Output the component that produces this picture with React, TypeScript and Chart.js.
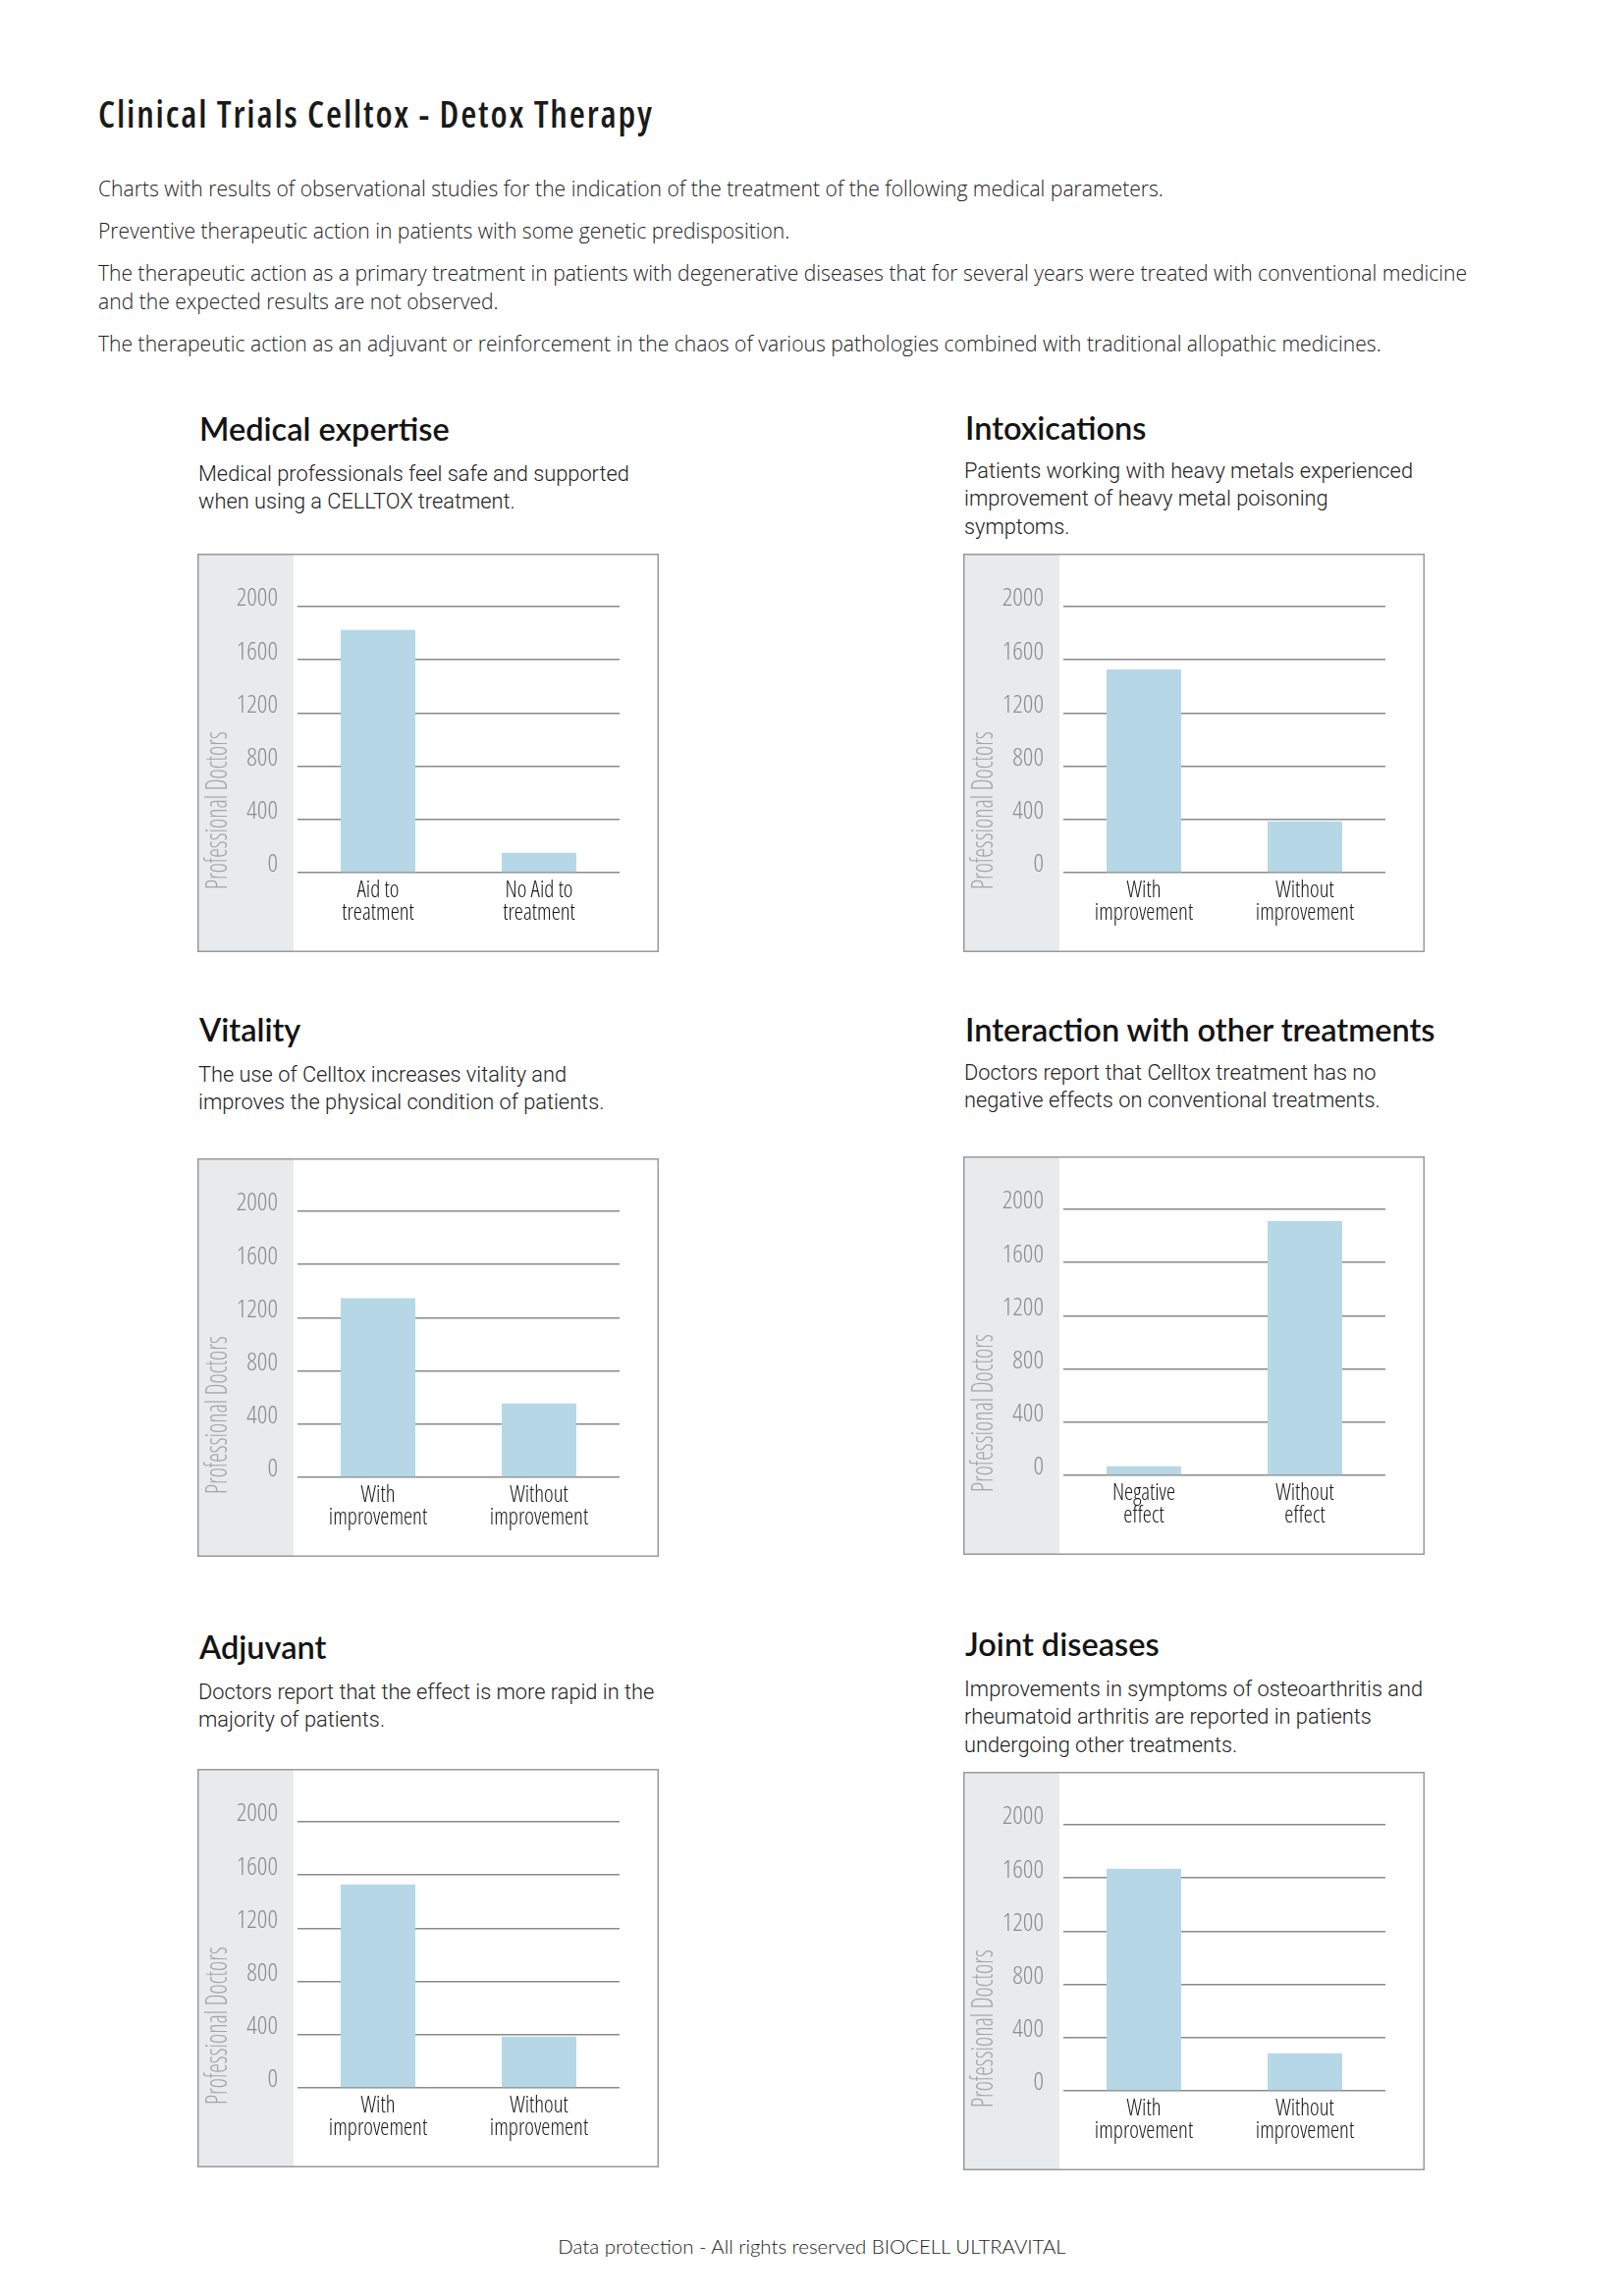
import React, { useEffect, useRef } from 'react';
import { Chart, registerables } from 'chart.js';

Chart.register(...registerables);

// ---------- data ----------
const yTicks = [0, 400, 800, 1200, 1600, 2000];
const axisTitle = 'Professional Doctors';

const medicalCategories = [['Aid to', 'treatment'], ['No Aid to', 'treatment']];
const medicalValues = [1825, 150];

const intoxCategories = [['With', 'improvement'], ['Without', 'improvement']];
const intoxValues = [1528, 385];

const vitalityCategories = [['With', 'improvement'], ['Without', 'improvement']];
const vitalityValues = [1346, 556];

const interactionCategories = [['Negative', 'effect'], ['Without', 'effect']];
const interactionValues = [69, 1912];

const adjuvantCategories = [['With', 'improvement'], ['Without', 'improvement']];
const adjuvantValues = [1530, 386];

const jointCategories = [['With', 'improvement'], ['Without', 'improvement']];
const jointValues = [1670, 283];

const pageTitle = 'Clinical Trials Celltox - Detox Therapy';
const introParagraphs = [
  ['Charts with results of observational studies for the indication of the treatment of the following medical parameters.'],
  ['Preventive therapeutic action in patients with some genetic predisposition.'],
  [
    'The therapeutic action as a primary treatment in patients with degenerative diseases that for several years were treated with conventional medicine',
    'and the expected results are not observed.',
  ],
  ['The therapeutic action as an adjuvant or reinforcement in the chaos of various pathologies combined with traditional allopathic medicines.'],
];
const footerText = 'Data protection - All rights reserved BIOCELL ULTRAVITAL';

const chartTitles = [
  'Medical expertise',
  'Intoxications',
  'Vitality',
  'Interaction with other treatments',
  'Adjuvant',
  'Joint diseases',
];
const chartDescriptions = [
  ['Medical professionals feel safe and supported', 'when using a CELLTOX treatment.'],
  ['Patients working with heavy metals experienced', 'improvement of heavy metal poisoning', 'symptoms.'],
  ['The use of Celltox increases vitality and', 'improves the physical condition of patients.'],
  ['Doctors report that Celltox treatment has no', 'negative effects on conventional treatments.'],
  ['Doctors report that the effect is more rapid in the', 'majority of patients.'],
  ['Improvements in symptoms of osteoarthritis and', 'rheumatoid arthritis are reported in patients', 'undergoing other treatments.'],
];
const chartCategories = [medicalCategories, intoxCategories, vitalityCategories, interactionCategories, adjuvantCategories, jointCategories];
const chartValues = [medicalValues, intoxValues, vitalityValues, interactionValues, adjuvantValues, jointValues];

// ---------- layout (positions only) ----------
const panelLayout = [
  { x: 201, y: 564, headY: 419, descY: 468.75 },
  { x: 981, y: 564, headY: 418, descY: 465.75 },
  { x: 201, y: 1180, headY: 1031, descY: 1080.75 },
  { x: 981, y: 1178, headY: 1031, descY: 1078.75 },
  { x: 201, y: 1802, headY: 1660, descY: 1709.75 },
  { x: 981, y: 1805, headY: 1657, descY: 1706.75 },
];
const PANEL_W = 470;
const PANEL_H = 406;

const OPEN = "'Open Sans', 'Noto Sans', sans-serif";

const panelDecor = {
  id: 'panelDecor',
  beforeDraw(chart: any) {
    const { ctx, width, height, chartArea } = chart;
    ctx.save();
    ctx.fillStyle = '#ffffff';
    ctx.fillRect(0, 0, width, height);
    ctx.fillStyle = '#e9eaec';
    ctx.fillRect(0, 0, chartArea.left - 4, height);
    ctx.strokeStyle = '#9a9a9a';
    ctx.lineWidth = 1.5;
    ctx.strokeRect(0.75, 0.75, width - 1.5, height - 1.5);
    ctx.restore();
  },
  afterDraw(chart: any) {
    const { ctx, chartArea } = chart;
    ctx.save();
    ctx.translate(21, chartArea.bottom + 17);
    ctx.rotate(-Math.PI / 2);
    ctx.scale(1, 1.3);
    ctx.font = `300 condensed 24.2px ${OPEN}`;
    ctx.fillStyle = '#a4a4a4';
    ctx.textAlign = 'left';
    ctx.textBaseline = 'middle';
    ctx.fillText(axisTitle, 0, 0);
    ctx.restore();
  },
};

function BarPanel({ categories, values, left, top }: { categories: string[][]; values: number[]; left: number; top: number }) {
  const ref = useRef<HTMLCanvasElement>(null);
  useEffect(() => {
    const chart = new Chart(ref.current as HTMLCanvasElement, {
      type: 'bar',
      data: {
        labels: categories as any,
        datasets: [
          {
            data: values,
            backgroundColor: '#b5d7e6',
            borderWidth: 0,
            barPercentage: 0.463,
            categoryPercentage: 1,
          },
        ],
      },
      options: {
        animation: false,
        responsive: false,
        maintainAspectRatio: false,
        layout: { padding: { top: 54, right: 40, left: 0, bottom: 0 } },
        plugins: { legend: { display: false }, tooltip: { enabled: false } },
        scales: {
          x: {
            grid: { display: false, drawTicks: false },
            border: { display: false },
            ticks: {
              color: '#161616',
              font: { family: OPEN, size: 23, weight: '300 condensed' as any, lineHeight: 1.0 },
              padding: 7,
              maxRotation: 0,
              autoSkip: false,
            },
            afterFit: (s: any) => {
              s.height = PANEL_H - 325;
            },
          },
          y: {
            min: 0,
            max: 2000,
            afterBuildTicks: (s: any) => {
              s.ticks = yTicks.map((v) => ({ value: v }));
            },
            ticks: {
              color: '#8c8c8c',
              font: { family: OPEN, size: 26, weight: '300 condensed' as any },
              padding: 20,
              labelOffset: -8,
              callback: (v: any) => String(v),
            },
            grid: { color: '#8a8a8a', lineWidth: 1.5, drawTicks: false },
            border: { display: false },
            afterFit: (s: any) => {
              s.width = 102;
            },
          },
        },
      },
      plugins: [panelDecor],
    });
    return () => chart.destroy();
  }, []);
  return (
    <canvas
      ref={ref}
      width={PANEL_W}
      height={PANEL_H}
      style={{ position: 'absolute', left, top, width: PANEL_W, height: PANEL_H, display: 'block' }}
    />
  );
}

export default function App() {
  const paraTops = [176.5, 219.5, 262.5, 334.5];
  return (
    <div
      style={{
        position: 'absolute',
        left: 0,
        top: 0,
        width: 1654,
        height: 2339,
        background: '#ffffff',
        overflow: 'hidden',
      }}
    >
      <div
        style={{
          position: 'absolute',
          left: 100,
          top: 93,
          fontFamily: OPEN,
          fontStretch: '75%',
          fontSize: 37,
          letterSpacing: '1.8px',
          lineHeight: '46px',
          fontWeight: 600,
          color: '#1a1a1a',
          whiteSpace: 'nowrap',
        }}
      >
        {pageTitle}
      </div>
      {introParagraphs.map((lines, i) => (
        <div
          key={i}
          style={{
            position: 'absolute',
            left: 100,
            top: paraTops[i],
            fontFamily: OPEN,
            fontWeight: 300,
            fontSize: 21.1,
            lineHeight: '29px',
            color: '#222',
            whiteSpace: 'nowrap',
          }}
        >
          {lines.map((l, j) => (
            <div key={j}>{l}</div>
          ))}
        </div>
      ))}
      {panelLayout.map((p, i) => (
        <React.Fragment key={i}>
          <div
            style={{
              position: 'absolute',
              left: p.x + 2,
              top: p.headY,
              fontFamily: "Lato, 'Open Sans', sans-serif",
              fontWeight: 600,
              fontSize: 32.5,
              lineHeight: '36px',
              color: '#141414',
              whiteSpace: 'nowrap',
            }}
          >
            {chartTitles[i]}
          </div>
          <div
            style={{
              position: 'absolute',
              left: p.x + 1,
              top: p.descY,
              fontFamily: "Roboto, 'Liberation Sans', sans-serif",
              fontWeight: 300,
              fontSize: 21.8,
              lineHeight: '28.5px',
              color: '#222',
              whiteSpace: 'nowrap',
            }}
          >
            {chartDescriptions[i].map((l, j) => (
              <div key={j}>{l}</div>
            ))}
          </div>
          <BarPanel categories={chartCategories[i]} values={chartValues[i]} left={p.x} top={p.y} />
        </React.Fragment>
      ))}
      <div
        style={{
          position: 'absolute',
          left: 0,
          width: 1654,
          top: 2276,
          textAlign: 'center',
          fontFamily: "Lato, 'Open Sans', sans-serif",
          fontWeight: 300,
          fontSize: 20.4,
          lineHeight: '24px',
          color: '#222',
          whiteSpace: 'nowrap',
        }}
      >
        {footerText}
      </div>
    </div>
  );
}
